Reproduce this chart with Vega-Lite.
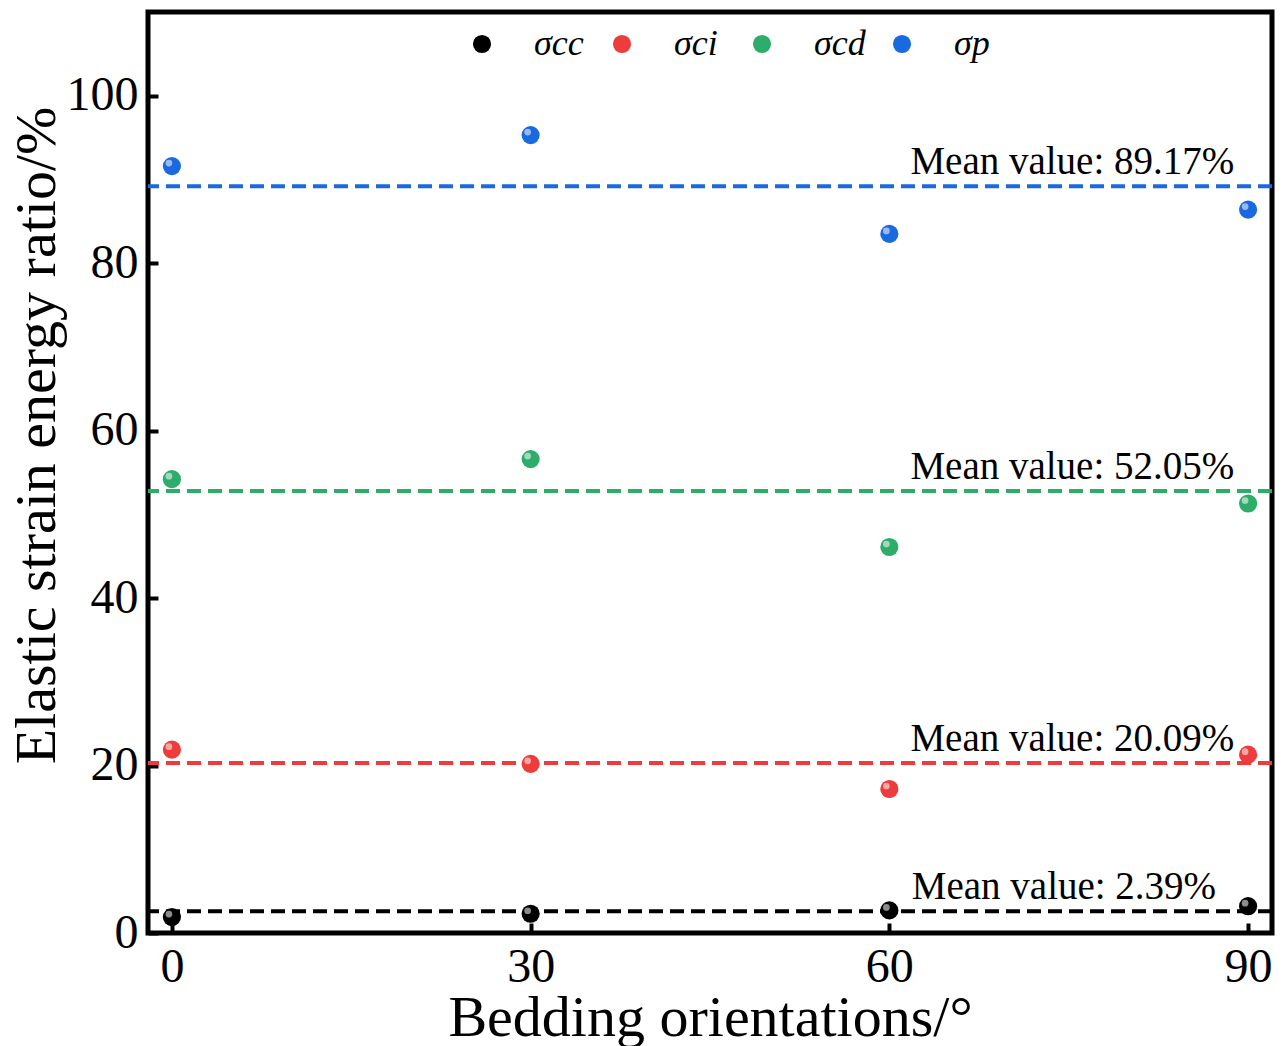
{
  "$schema": "https://vega.github.io/schema/vega-lite/v6.json",
  "width": 1124,
  "height": 921,
  "autosize": {"type": "none"},
  "padding": {"left": 148, "top": 12, "right": 16, "bottom": 113},
  "background": "white",
  "config": {
    "view": {"stroke": "black", "strokeWidth": 5},
    "font": "Liberation Serif",
    "axis": {
      "grid": false,
      "domain": false,
      "ticks": true,
      "tickSize": 10,
      "offset": -10,
      "tickWidth": 4,
      "tickColor": "black",
      "labelFont": "Liberation Serif",
      "labelFontSize": 48,
      "labelColor": "black",
      "titleFont": "Liberation Serif",
      "titleFontSize": 58,
      "titleFontWeight": "normal",
      "titleColor": "black"
    }
  },
  "resolve": {"legend": {"color": "independent"}},
  "datasets": {
    "pts": [
      {"angle": 0, "series": "σcc", "value": 1.9},
      {"angle": 30, "series": "σcc", "value": 2.3},
      {"angle": 60, "series": "σcc", "value": 2.7},
      {"angle": 90, "series": "σcc", "value": 3.2},
      {"angle": 0, "series": "σci", "value": 21.9},
      {"angle": 30, "series": "σci", "value": 20.2},
      {"angle": 60, "series": "σci", "value": 17.2},
      {"angle": 90, "series": "σci", "value": 21.3},
      {"angle": 0, "series": "σcd", "value": 54.2},
      {"angle": 30, "series": "σcd", "value": 56.6},
      {"angle": 60, "series": "σcd", "value": 46.1},
      {"angle": 90, "series": "σcd", "value": 51.3},
      {"angle": 0, "series": "σp", "value": 91.6},
      {"angle": 30, "series": "σp", "value": 95.3},
      {"angle": 60, "series": "σp", "value": 83.5},
      {"angle": 90, "series": "σp", "value": 86.4}
    ],
    "means": [
      {"series": "σcc", "mean": 2.6, "label": "Mean value: 2.39%", "pos": 74.6},
      {"series": "σci", "mean": 20.3, "label": "Mean value: 20.09%", "pos": 75.3},
      {"series": "σcd", "mean": 52.8, "label": "Mean value: 52.05%", "pos": 75.3},
      {"series": "σp", "mean": 89.2, "label": "Mean value: 89.17%", "pos": 75.3}
    ]
  },
  "layer": [
    {
      "data": {"name": "means"},
      "mark": {"type": "rule", "strokeDash": [14, 7], "strokeWidth": 4},
      "encoding": {
        "y": {"field": "mean", "type": "quantitative", "scale": {"domain": [0, 110], "nice": false}},
        "color": {"field": "series", "type": "nominal", "legend": null,
          "scale": {"domain": ["σcc", "σci", "σcd", "σp"], "range": ["#000000", "#ee3b3b", "#2eac6a", "#1a69e0"]}}
      }
    },
    {
      "data": {"name": "pts"},
      "mark": {"type": "point", "filled": true, "size": 330, "opacity": 1, "shape": "circle"},
      "encoding": {
        "x": {"field": "angle", "type": "quantitative",
          "scale": {"domain": [-2, 92], "nice": false},
          "axis": {"values": [0, 30, 60, 90], "title": "Bedding orientations/°", "labelPadding": 10, "titleY": 112, "titleBaseline": "alphabetic"}},
        "y": {"field": "value", "type": "quantitative",
          "scale": {"domain": [0, 110], "nice": false},
          "axis": {"values": [0, 20, 40, 60, 80, 100], "title": "Elastic strain energy ratio/%", "labelPadding": 10,
            "titleX": -104, "titleY": 423, "titleAngle": -90, "titleAlign": "center", "titleBaseline": "alphabetic"}},
        "color": {"field": "series", "type": "nominal",
          "scale": {"domain": ["σcc", "σci", "σcd", "σp"], "range": ["#000000", "#ee3b3b", "#2eac6a", "#1a69e0"]},
          "legend": {
            "title": null, "orient": "none", "direction": "horizontal", "columns": 4, "gridAlign": "all",
            "legendX": 316, "legendY": 14,
            "symbolType": "circle", "symbolSize": 330, "symbolStrokeWidth": 0,
            "labelFont": "Liberation Serif", "labelFontStyle": "italic", "labelFontSize": 36, "labelColor": "black",
            "labelOffset": 34, "columnPadding": 18
          }}
      }
    },
    {
      "data": {"name": "pts"},
      "mark": {"type": "point", "filled": true, "size": 45, "color": "white", "opacity": 0.55, "xOffset": -3, "yOffset": -3},
      "encoding": {
        "x": {"field": "angle", "type": "quantitative"},
        "y": {"field": "value", "type": "quantitative"}
      }
    },
    {
      "data": {"name": "means"},
      "mark": {"type": "text", "fontSize": 39, "font": "Liberation Serif", "color": "black", "align": "center", "baseline": "alphabetic", "dy": -12},
      "encoding": {
        "x": {"field": "pos", "type": "quantitative"},
        "y": {"field": "mean", "type": "quantitative"},
        "text": {"field": "label"}
      }
    }
  ]
}
